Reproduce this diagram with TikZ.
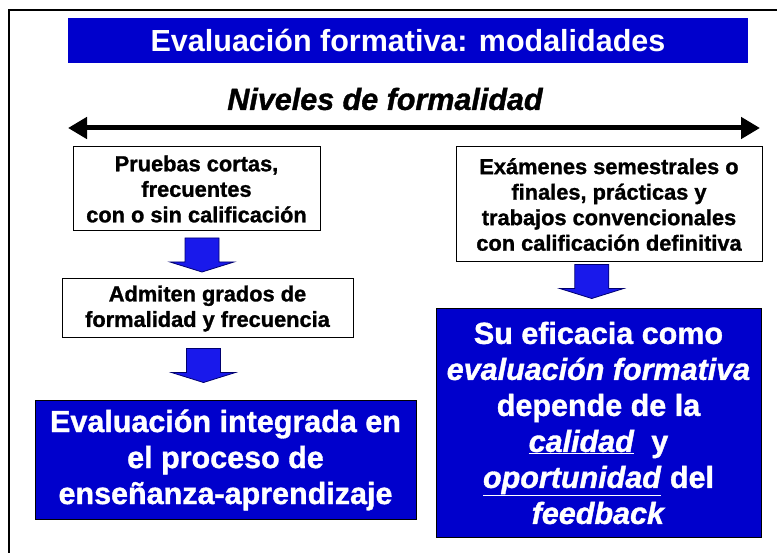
\documentclass[tikz,border=0pt]{standalone}
\usepackage{fontspec}
\setmainfont{Liberation Sans}
\newfontfamily\gruesa{Liberation Sans}[BoldFeatures={FakeBold=1.2},BoldItalicFeatures={FakeBold=1.2}]
\usetikzlibrary{positioning,calc,arrows.meta}
\definecolor{boxblue}{RGB}{0,0,204}
\definecolor{arrowblue}{RGB}{25,25,235}
\definecolor{arrowedge}{RGB}{0,0,110}

\begin{document}
\begin{tikzpicture}[x=1pt, y=-1pt,
    whitebox/.style={draw=black, line width=1pt, fill=white, align=center, inner sep=0pt,
      font=\gruesa\fontsize{21.8}{25.5}\selectfont\bfseries},
    bluebox/.style={draw=black, line width=1pt, fill=boxblue, text=white, align=center, inner sep=0pt,
      font=\gruesa\fontsize{30.5}{36}\selectfont\bfseries},
    downarrow/.pic={\draw[fill=arrowblue, draw=arrowedge, line width=0.8pt]
      (-17,-17) -- (17,-17) -- (17,7) -- (32,7) -- (0,17) -- (-32,7) -- (-17,7) -- cycle;}]
    \useasboundingbox (0,0) rectangle (777,553);
    % marco de la diapositiva
    \draw[line width=2pt] (9,553) -- (9,10) -- (777,10);
    \node[fill=boxblue, minimum width=680, minimum height=45, text=white,
      font=\fontsize{30.5}{36}\selectfont\bfseries] (titulo) at (408,40.5) {Evaluación formativa: modalidades};
    \node[font=\gruesa\fontsize{30.5}{36}\selectfont\bfseries\itshape] (niveles) at (385,99) {Niveles de formalidad};
    % eje de formalidad
    \coordinate (izq) at (68,128);
    \coordinate (der) at (760,128);
    \draw[line width=5pt, {Triangle[length=19pt,width=21pt]}-{Triangle[length=19pt,width=21pt]}] (izq) -- (der);

    \node[whitebox, minimum width=247, minimum height=84] (pruebas) at (196.5,189)
      {Pruebas cortas,\\ frecuentes\\ con o sin calificación};
    \node[whitebox, minimum width=291, minimum height=59] (admiten) at (207.5,308.5)
      {Admiten grados de\\ formalidad y frecuencia};
    \node[bluebox, minimum width=381, minimum height=118] (integrada) at (225.5,460)
      {Evaluación integrada en\\ el proceso de\\ enseñanza-aprendizaje};
    \node[whitebox, minimum width=306, minimum height=115] (examenes) at (609,204.5)
      {Exámenes semestrales o\\ finales, prácticas y\\ trabajos convencionales\\ con calificación definitiva};
    \node[bluebox, minimum width=325, minimum height=228] (eficacia) at (598.5,423)
      {Su eficacia como\\ \textit{evaluación formativa}\\ depende de la\\ \underline{\textit{calidad}}\ \ y\\
       \underline{\textit{oportunidad}} del\\ \textit{feedback}};

    % flechas de bloque
    \pic at ($(pruebas.south)!.5!(admiten.north)$) {downarrow};
    \pic at ($(admiten.south)!.5!(integrada.north)+(-13,-4)$) {downarrow};
    \pic at ($(examenes.south)!.5!(eficacia.north)+(-12,-4)$) {downarrow};
\end{tikzpicture}
\end{document}
